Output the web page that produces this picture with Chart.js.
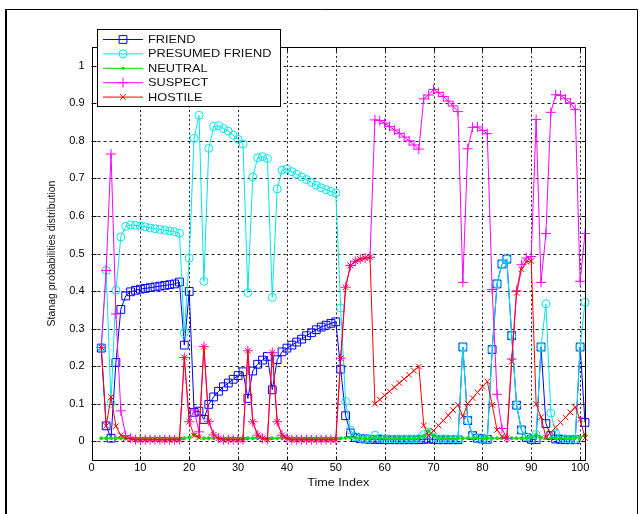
<!DOCTYPE html>
<html>
<head>
<meta charset="utf-8">
<script src="https://cdn.jsdelivr.net/npm/chart.js@4.4.1/dist/chart.umd.min.js"></script>
<style>
  html, body { margin: 0; padding: 0; background: #fff; }
  #wrap { width: 642px; height: 514px; }
</style>
</head>
<body>
<div id="wrap"><canvas id="chart" width="642" height="514"></canvas></div>
<script>
// time index (x) and the five class probabilities
const timeIndex = [
  2, 3, 4, 5, 6, 7, 8, 9, 10, 11,
  12, 13, 14, 15, 16, 17, 18, 19, 20, 21,
  22, 23, 24, 25, 26, 27, 28, 29, 30, 31,
  32, 33, 34, 35, 36, 37, 38, 39, 40, 41,
  42, 43, 44, 45, 46, 47, 48, 49, 50, 51,
  52, 53, 54, 55, 56, 57, 58, 59, 60, 61,
  62, 63, 64, 65, 66, 67, 68, 69, 70, 71,
  72, 73, 74, 75, 76, 77, 78, 79, 80, 81,
  82, 83, 84, 85, 86, 87, 88, 89, 90, 91,
  92, 93, 94, 95, 96, 97, 98, 99, 100, 101
];

const friend = [
  0.248, 0.041, 0.008, 0.21, 0.351, 0.387, 0.398, 0.402, 0.405, 0.407,
  0.409, 0.411, 0.413, 0.415, 0.417, 0.419, 0.424, 0.256, 0.399, 0.077,
  0.08, 0.058, 0.098, 0.118, 0.133, 0.145, 0.155, 0.165, 0.175, 0.185,
  0.114, 0.187, 0.205, 0.216, 0.226, 0.137, 0.217, 0.238, 0.248, 0.256,
  0.264, 0.272, 0.281, 0.289, 0.297, 0.304, 0.309, 0.314, 0.318, 0.192,
  0.068, 0.022, 0.01, 0.007, 0.006, 0.005, 0.005, 0.005, 0.004, 0.004,
  0.004, 0.004, 0.004, 0.004, 0.004, 0.004, 0.005, 0.006, 0.005, 0.004,
  0.004, 0.004, 0.004, 0.004, 0.251, 0.055, 0.015, 0.008, 0.006, 0.005,
  0.244, 0.419, 0.472, 0.485, 0.281, 0.096, 0.03, 0.01, 0.005, 0.004,
  0.251, 0.047, 0.015, 0.006, 0.005, 0.004, 0.004, 0.004, 0.251, 0.05
];

const presumedFriend = [
  0.25, 0.455, 0.101, 0.402, 0.544, 0.572, 0.576, 0.575, 0.573, 0.571,
  0.568, 0.566, 0.564, 0.562, 0.56, 0.558, 0.554, 0.289, 0.488, 0.807,
  0.868, 0.426, 0.78, 0.838, 0.84, 0.833, 0.826, 0.815, 0.804, 0.792,
  0.396, 0.704, 0.755, 0.758, 0.753, 0.383, 0.672, 0.722, 0.725, 0.718,
  0.711, 0.704, 0.697, 0.689, 0.682, 0.675, 0.67, 0.665, 0.661, 0.355,
  0.106, 0.03, 0.012, 0.008, 0.006, 0.006, 0.016, 0.008, 0.006, 0.006,
  0.006, 0.006, 0.006, 0.006, 0.006, 0.007, 0.018, 0.024, 0.01, 0.006,
  0.006, 0.006, 0.006, 0.006, 0.251, 0.055, 0.015, 0.008, 0.006, 0.005,
  0.244, 0.419, 0.472, 0.485, 0.281, 0.096, 0.03, 0.012, 0.006, 0.018,
  0.251, 0.366, 0.075, 0.02, 0.008, 0.006, 0.005, 0.005, 0.251, 0.37
];

const neutral = [
  0.008, 0.008, 0.008, 0.008, 0.008, 0.008, 0.008, 0.008, 0.008, 0.008,
  0.008, 0.008, 0.008, 0.008, 0.008, 0.008, 0.008, 0.008, 0.01, 0.018,
  0.011, 0.008, 0.008, 0.008, 0.008, 0.008, 0.008, 0.008, 0.008, 0.008,
  0.008, 0.008, 0.008, 0.008, 0.008, 0.008, 0.008, 0.008, 0.008, 0.008,
  0.008, 0.008, 0.008, 0.008, 0.008, 0.008, 0.008, 0.008, 0.008, 0.008,
  0.009, 0.01, 0.009, 0.008, 0.008, 0.008, 0.011, 0.008, 0.008, 0.008,
  0.008, 0.008, 0.008, 0.008, 0.008, 0.009, 0.014, 0.027, 0.014, 0.009,
  0.008, 0.008, 0.008, 0.008, 0.008, 0.008, 0.008, 0.008, 0.008, 0.008,
  0.008, 0.008, 0.008, 0.008, 0.008, 0.008, 0.008, 0.009, 0.01, 0.017,
  0.01, 0.008, 0.008, 0.008, 0.008, 0.008, 0.008, 0.009, 0.01, 0.017
];

const suspect = [
  0.25, 0.455, 0.765, 0.339, 0.081, 0.015, 0.008, 0.004, 0.004, 0.004,
  0.004, 0.004, 0.004, 0.004, 0.004, 0.004, 0.004, 0.223, 0.052, 0.083,
  0.025, 0.252, 0.053, 0.017, 0.008, 0.004, 0.004, 0.004, 0.004, 0.004,
  0.241, 0.052, 0.016, 0.008, 0.005, 0.236, 0.052, 0.016, 0.008, 0.004,
  0.004, 0.004, 0.004, 0.004, 0.004, 0.004, 0.004, 0.004, 0.004, 0.221,
  0.41, 0.468, 0.479, 0.485, 0.488, 0.49, 0.856, 0.854, 0.847, 0.838,
  0.829, 0.82, 0.81, 0.8, 0.789, 0.778, 0.912, 0.922, 0.937, 0.929,
  0.918, 0.906, 0.893, 0.878, 0.423, 0.779, 0.836, 0.837, 0.828, 0.819,
  0.404, 0.125, 0.034, 0.008, 0.219, 0.4, 0.47, 0.488, 0.492, 0.857,
  0.423, 0.553, 0.876, 0.923, 0.921, 0.912, 0.901, 0.884, 0.426, 0.553
];

const hostile = [
  0.25, 0.041, 0.118, 0.04, 0.016, 0.008, 0.006, 0.004, 0.004, 0.004,
  0.004, 0.004, 0.004, 0.004, 0.004, 0.004, 0.004, 0.223, 0.052, 0.015,
  0.01, 0.252, 0.053, 0.017, 0.008, 0.004, 0.004, 0.004, 0.004, 0.004,
  0.241, 0.052, 0.016, 0.008, 0.005, 0.236, 0.052, 0.016, 0.008, 0.004,
  0.004, 0.004, 0.004, 0.004, 0.004, 0.004, 0.004, 0.004, 0.004, 0.221,
  0.41, 0.468, 0.479, 0.485, 0.488, 0.49, 0.1, 0.111, 0.122, 0.133,
  0.144, 0.155, 0.166, 0.177, 0.188, 0.199, 0.042, 0.015, 0.028, 0.042,
  0.055, 0.069, 0.083, 0.097, 0.066, 0.1, 0.115, 0.13, 0.145, 0.159,
  0.097, 0.03, 0.013, 0.008, 0.212, 0.395, 0.458, 0.478, 0.48, 0.099,
  0.064, 0.01, 0.024, 0.037, 0.05, 0.063, 0.077, 0.091, 0.058, 0.009
];

const seriesNames = ['FRIEND', 'PRESUMED FRIEND', 'NEUTRAL', 'SUSPECT', 'HOSTILE'];
const xTicks = [0, 10, 20, 30, 40, 50, 60, 70, 80, 90, 100];
const yTicks = [0, 0.1, 0.2, 0.3, 0.4, 0.5, 0.6, 0.7, 0.8, 0.9, 1];

const FONT = '"Liberation Sans", Arial, sans-serif';
const colors = ['#0000ff', '#00e6e6', '#00e000', '#ff00ff', '#ff0000'];
const styles = [
  { pointStyle: 'rect', radius: 5.5 },
  { pointStyle: 'circle', radius: 4 },
  { pointStyle: 'circle', radius: 1.5, filled: true },
  { pointStyle: 'cross', radius: 5 },
  { pointStyle: 'crossRot', radius: 4 }
];

const pts = arr => arr.map((v, i) => ({ x: timeIndex[i], y: v }));

// legend marker, drawn by hand so it matches the plotted markers
function marker(ctx, style, x, y, color) {
  ctx.strokeStyle = color;
  ctx.fillStyle = color;
  ctx.lineWidth = 1;
  ctx.beginPath();
  const r = style.radius;
  if (style.pointStyle === 'rect') {
    const s = r * Math.SQRT1_2;
    ctx.rect(x - s, y - s, 2 * s, 2 * s);
    ctx.stroke();
  } else if (style.pointStyle === 'circle') {
    ctx.arc(x, y, r, 0, Math.PI * 2);
    style.filled ? ctx.fill() : ctx.stroke();
  } else if (style.pointStyle === 'cross') {
    ctx.moveTo(x - r, y); ctx.lineTo(x + r, y);
    ctx.moveTo(x, y - r); ctx.lineTo(x, y + r);
    ctx.stroke();
  } else {
    const s = r * Math.SQRT1_2;
    ctx.moveTo(x - s, y - s); ctx.lineTo(x + s, y + s);
    ctx.moveTo(x - s, y + s); ctx.lineTo(x + s, y - s);
    ctx.stroke();
  }
}

const matlabLook = {
  id: 'matlabLook',
  beforeDatasetsDraw(chart) {
    const { ctx, chartArea: a, scales: { x, y } } = chart;
    ctx.save();
    ctx.strokeStyle = '#222';
    ctx.lineWidth = 1;
    // dotted grid
    ctx.setLineDash([3, 3]);
    yTicks.forEach(v => {
      const py = Math.round(y.getPixelForValue(v)) + 0.5;
      ctx.beginPath(); ctx.moveTo(a.left, py); ctx.lineTo(a.right, py); ctx.stroke();
    });
    ctx.setLineDash([2, 2.5]);
    xTicks.forEach(v => {
      if (v === 0) return;
      const px = Math.round(x.getPixelForValue(v)) + 0.5;
      ctx.beginPath(); ctx.moveTo(px, a.top); ctx.lineTo(px, a.bottom); ctx.stroke();
    });
    ctx.restore();
  },
  afterDatasetsDraw(chart) {
    const { ctx, chartArea: a, scales: { x, y } } = chart;
    ctx.save();
    ctx.strokeStyle = '#000';
    ctx.lineWidth = 1;
    const L = Math.round(a.left) + 0.5, R = Math.round(a.right) + 0.5;
    const T = Math.round(a.top) + 0.5, B = Math.round(a.bottom) + 0.5;
    ctx.strokeRect(L, T, R - L, B - T);
    // inward tick marks
    ctx.beginPath();
    xTicks.forEach(v => {
      const px = Math.round(x.getPixelForValue(v)) + 0.5;
      ctx.moveTo(px, B); ctx.lineTo(px, B - 4);
      ctx.moveTo(px, T); ctx.lineTo(px, T + 4);
    });
    yTicks.forEach(v => {
      const py = Math.round(y.getPixelForValue(v)) + 0.5;
      ctx.moveTo(L, py); ctx.lineTo(L + 4, py);
      ctx.moveTo(R, py); ctx.lineTo(R - 4, py);
    });
    ctx.stroke();
    ctx.restore();
  },
  afterDraw(chart) {
    const { ctx, chartArea: a } = chart;
    ctx.save();
    // legend box
    const lx = 97, ly = 29, lw = 183, lh = 77;
    ctx.fillStyle = '#fff';
    ctx.fillRect(lx, ly, lw, lh);
    ctx.strokeStyle = '#000';
    ctx.lineWidth = 1;
    ctx.strokeRect(lx + 0.5, ly + 0.5, lw, lh);
    seriesNames.forEach((name, i) => {
      const cy = 39.5 + i * 14.4;
      ctx.strokeStyle = colors[i];
      ctx.beginPath(); ctx.moveTo(103, cy); ctx.lineTo(143, cy); ctx.stroke();
      marker(ctx, styles[i], 123, cy, colors[i]);
      ctx.save();
      ctx.fillStyle = '#111';
      ctx.font = '11px ' + FONT;
      ctx.textBaseline = 'middle';
      ctx.translate(148, cy + 0.5);
      ctx.scale(1.16, 1);
      ctx.fillText(name, 0, 0);
      ctx.restore();
    });
    // axis titles
    ctx.fillStyle = '#111';
    ctx.textAlign = 'center';
    ctx.textBaseline = 'middle';
    ctx.save();
    ctx.translate((a.left + a.right) / 2, 483);
    ctx.scale(1.15, 1);
    ctx.font = '11px ' + FONT;
    ctx.fillText('Time Index', 0, 0);
    ctx.restore();
    ctx.save();
    ctx.translate(52, (a.top + a.bottom) / 2);
    ctx.rotate(-Math.PI / 2);
    ctx.font = '10.5px ' + FONT;
    ctx.fillText('Stanag probabilities distribution', 0, 0);
    ctx.restore();
    // figure frame
    ctx.strokeStyle = '#000';
    ctx.lineWidth = 2;
    ctx.beginPath(); ctx.moveTo(6, 9); ctx.lineTo(6, 514); ctx.stroke();
    ctx.lineWidth = 1;
    ctx.beginPath(); ctx.moveTo(6, 9.5); ctx.lineTo(637.5, 9.5); ctx.lineTo(637.5, 514); ctx.stroke();
    ctx.restore();
  }
};

const seriesData = [friend, presumedFriend, neutral, suspect, hostile];

new Chart(document.getElementById('chart'), {
  type: 'line',
  data: {
    datasets: seriesData.map((arr, i) => ({
      label: seriesNames[i],
      data: pts(arr),
      borderColor: colors[i],
      borderWidth: 1,
      pointStyle: styles[i].pointStyle,
      pointRadius: styles[i].radius,
      pointBorderWidth: 1,
      pointBorderColor: colors[i],
      pointBackgroundColor: styles[i].filled ? colors[i] : 'rgba(0,0,0,0)',
      tension: 0,
      fill: false,
      clip: false,
      order: 5 - i
    }))
  },
  options: {
    responsive: false,
    animation: false,
    events: [],
    layout: { padding: { top: 47, right: 57, left: 0, bottom: 0 } },
    plugins: { legend: { display: false }, tooltip: { enabled: false } },
    scales: {
      x: {
        type: 'linear',
        min: 0,
        max: 101,
        afterBuildTicks: s => { s.ticks = xTicks.map(v => ({ value: v })); },
        afterFit: s => { s.height = 54; },
        grid: { display: false, drawTicks: false },
        border: { display: false },
        ticks: {
          autoSkip: false,
          maxRotation: 0,
          padding: 1,
          color: '#000',
          font: { family: FONT, size: 11 }
        }
      },
      y: {
        type: 'linear',
        min: -0.05,
        max: 1.05,
        afterBuildTicks: s => { s.ticks = yTicks.map(v => ({ value: v })); },
        afterFit: s => { s.width = 91.5; },
        grid: { display: false, drawTicks: false },
        border: { display: false },
        ticks: {
          padding: 7,
          color: '#000',
          font: { family: FONT, size: 11 },
          callback: v => (v === 0 || v === 1) ? String(v) : v.toFixed(1)
        }
      }
    }
  },
  plugins: [matlabLook]
});
</script>
</body>
</html>
